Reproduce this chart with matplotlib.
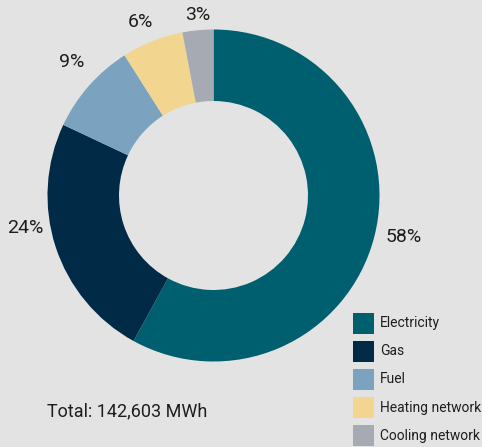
import matplotlib
matplotlib.use('Agg')
import matplotlib.pyplot as plt
from matplotlib.patches import Rectangle

categories = ['Electricity', 'Gas', 'Fuel', 'Heating network', 'Cooling network']
shares = [58, 24, 9, 6, 3]
colors = ['#005F6E', '#002A46', '#7BA3BF', '#F2D58E', '#A6AAB2']
total_label = 'Total: 142,603 MWh'

# where each percentage label sits (pixels from top-left)
label_pos = [(404, 237), (25, 228), (72, 62), (140, 22), (198, 15)]

plt.rcParams['font.family'] = ['Roboto', 'DejaVu Sans']
bg = '#E3E3E3'
W, H = 482, 447
fig = plt.figure(figsize=(W / 100, H / 100), dpi=100, facecolor=bg)
ax = fig.add_axes([0, 0, 1, 1])
ax.set_facecolor(bg)

cx, cy, r = 213.5, H - 195.5, 166
ax.pie(shares, colors=colors, startangle=90, counterclock=False,
       center=(cx, cy), radius=r,
       wedgeprops=dict(width=r - 94.5, linewidth=0))
ax.set_xlim(0, W)
ax.set_ylim(0, H)
ax.set_aspect('equal')
ax.axis('off')

for val, (x, y) in zip(shares, label_pos):
    ax.text(x, H - y, f'{val}%', fontsize=14, color='#1E1E1E',
            ha='center', va='center')

ax.text(47, H - 411, total_label, fontsize=13, color='#1E1E1E',
        ha='left', va='center')

# legend drawn by hand
for i, (name, col) in enumerate(zip(categories, colors)):
    y = 323 + i * 28.2
    ax.add_patch(Rectangle((353, H - y - 10.5), 21, 21, color=col, linewidth=0))
    ax.text(380, H - y, name, fontsize=10, color='#1E1E1E',
            ha='left', va='center')

fig.savefig('out.png', dpi=100, facecolor=bg)
